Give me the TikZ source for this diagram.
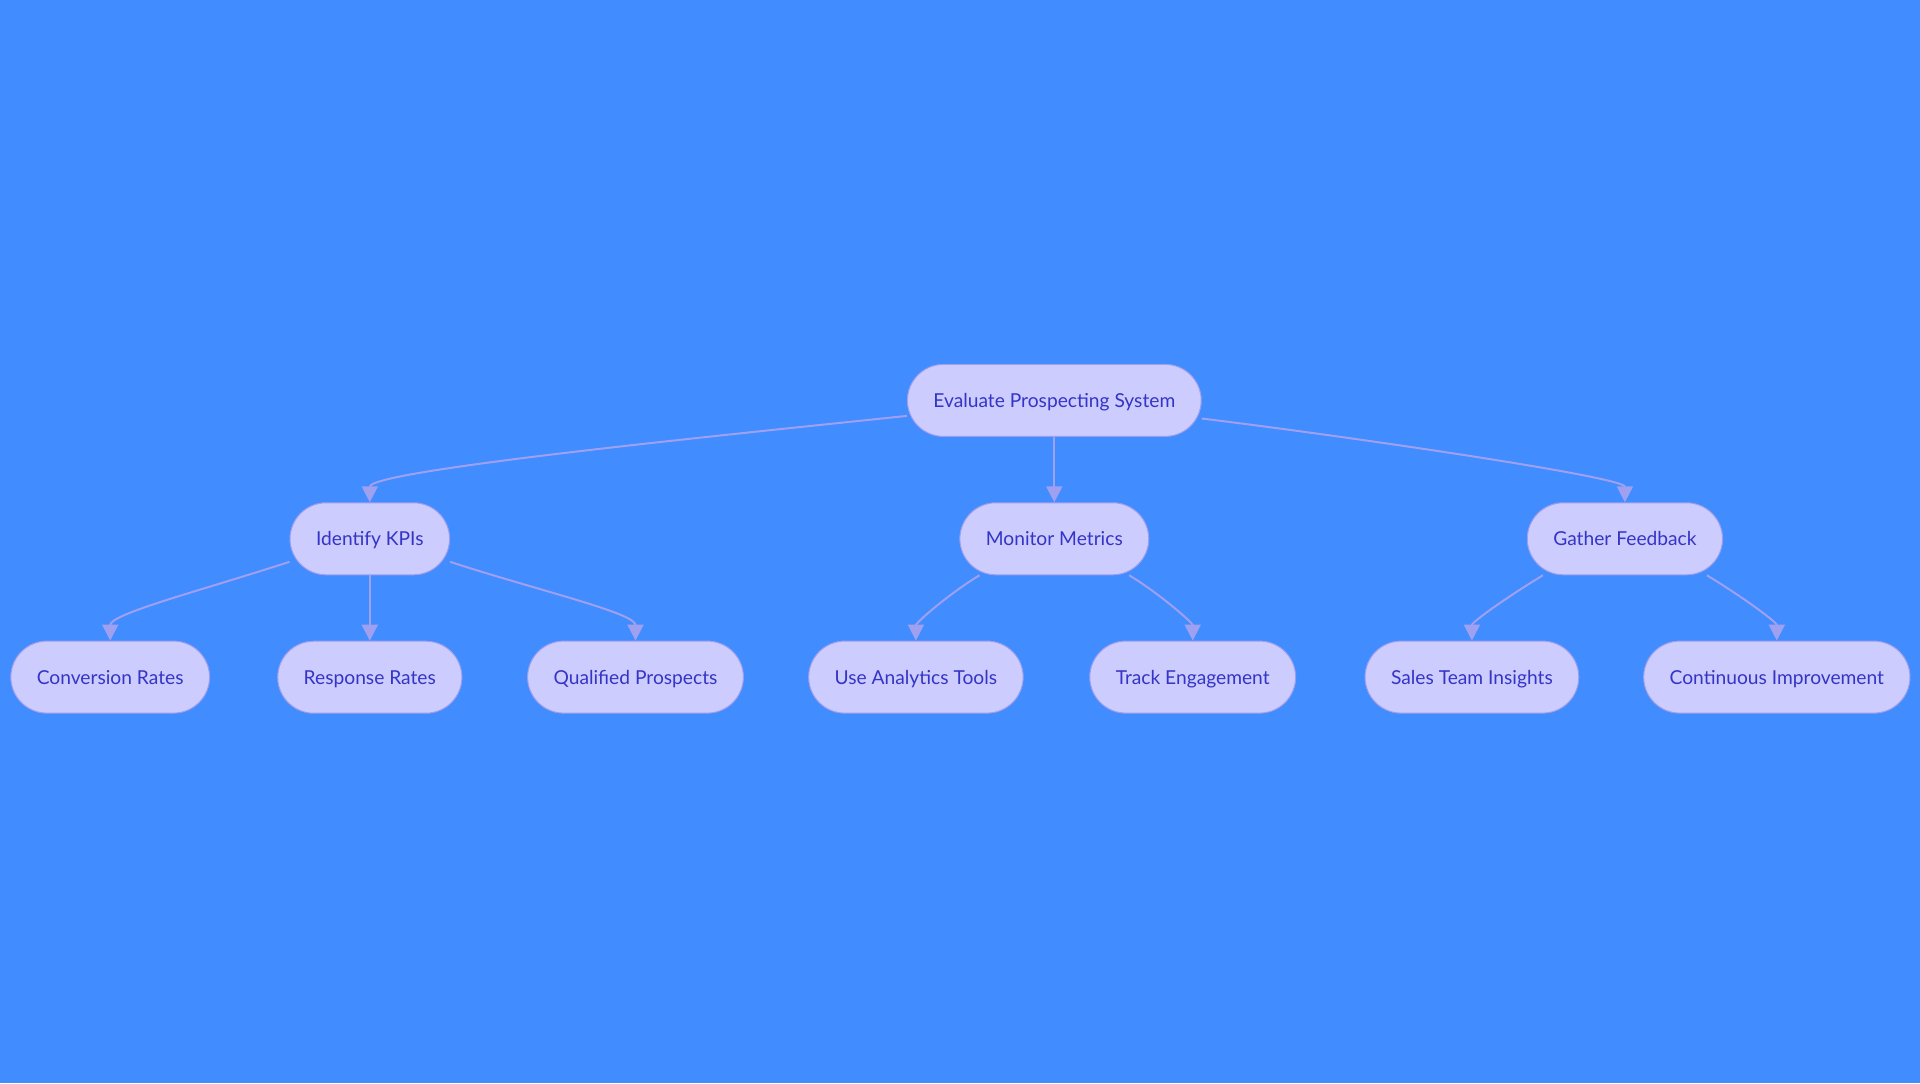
\documentclass[tikz,border=0pt]{standalone}
\usepackage{fontspec}
\setmainfont{Lato}
\usetikzlibrary{positioning,arrows.meta}
\definecolor{bgblue}{HTML}{418CFF}
\definecolor{boxfill}{HTML}{CCCCFF}
\definecolor{boxline}{HTML}{9D9DEB}
\definecolor{boxtext}{HTML}{3434C6}
\definecolor{linkline}{HTML}{A0A0F0}

\begin{document}
\begin{tikzpicture}[x=0.5pt,y=0.5pt,node distance=69.2pt,on grid,
	>={Triangle[length=8pt,width=8pt]},
	box/.style={draw=boxline,line width=0.5pt,fill=boxfill,text=boxtext,
		rounded corners=18pt,minimum height=36pt,inner xsep=13pt,
		text height=8pt,text depth=1pt,
		font=\fontsize{9.6}{11}\selectfont},
	link/.style={->,draw=linkline,line width=1pt}]
	\fill[bgblue] (0,0) rectangle (1920,1083);
	\useasboundingbox (0,0) rectangle (1920,1083);
	% root
	\node[box] (eval) at (1054.3,682.6) {Evaluate Prospecting System};
	% second level
	\node[box] (kpi) at (369.8,544.2) {Identify KPIs};
	\node[box,below=of eval] (metric) {Monitor Metrics};
	\node[box] (feed) at (1624.9,544.2) {Gather Feedback};
	% leaves
	\node[box] (conv) at (110.2,405.9) {Conversion Rates};
	\node[box,below=of kpi] (resp) {Response Rates};
	\node[box] (qual) at (635.5,405.9) {Qualified Prospects};
	\node[box] (tools) at (915.9,405.9) {Use Analytics Tools};
	\node[box] (track) at (1192.7,405.9) {Track Engagement};
	\node[box] (sales) at (1471.9,405.9) {Sales Team Insights};
	\node[box] (impr) at (1776.8,405.9) {Continuous Improvement};
	\draw (eval.186) edge[link,out=186,in=90,out looseness=0.9,in looseness=0.15] (kpi.north)
		(eval) edge[link] (metric)
		(eval.-7.5) edge[link,out=-7,in=90,out looseness=0.9,in looseness=0.15] (feed.north)
		(kpi.196) edge[link,out=198,in=90,out looseness=1.2,in looseness=0.35] (conv.north)
		(kpi) edge[link] (resp)
		(kpi.-16) edge[link,out=-18,in=90,out looseness=1.2,in looseness=0.35] (qual.north)
		(metric.206) edge[link,out=211,in=90,out looseness=1,in looseness=0.5] (tools.north)
		(metric.-26) edge[link,out=-31,in=90,out looseness=1,in looseness=0.5] (track.north)
		(feed.204) edge[link,out=211,in=90,out looseness=1,in looseness=0.5] (sales.north)
		(feed.-24) edge[link,out=-31,in=90,out looseness=1,in looseness=0.5] (impr.north);
\end{tikzpicture}
\end{document}
